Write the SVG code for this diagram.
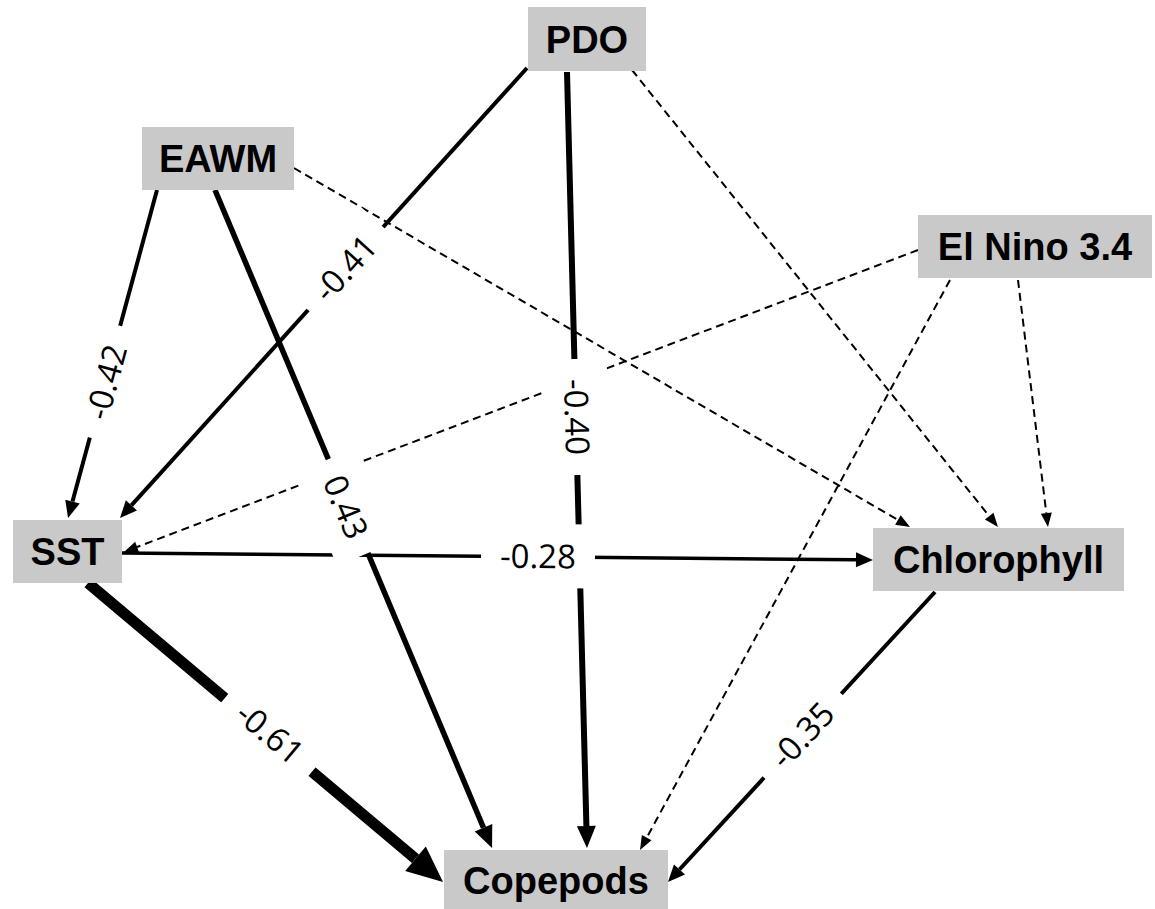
<svg xmlns="http://www.w3.org/2000/svg" width="1155" height="909" viewBox="0 0 1155 909">
<style>
.node rect{fill:#c9c9c9}
.node text{font-family:"Liberation Sans",Arial,sans-serif;font-weight:bold;font-size:38px;fill:#000;text-anchor:middle}
.e{fill:none;stroke:#000}
.d{stroke-width:2;stroke-dasharray:8 5;marker-end:url(#aD)}
.lab rect{fill:#fff}
.lab text{font-family:"Open Sans","Liberation Sans",sans-serif;font-size:33px;fill:#000;text-anchor:middle}
</style>
<defs>
<marker id="aS" markerUnits="userSpaceOnUse" markerWidth="17" markerHeight="15" refX="0" refY="7.5" orient="auto" overflow="visible"><path d="M0,0 L17,7.5 L0,15 z" fill="#000"/></marker>
<marker id="aM" markerUnits="userSpaceOnUse" markerWidth="22" markerHeight="19" refX="0" refY="9.5" orient="auto" overflow="visible"><path d="M0,0 L22,9.5 L0,19 z" fill="#000"/></marker>
<marker id="aD" markerUnits="userSpaceOnUse" markerWidth="14" markerHeight="11" refX="0" refY="5.5" orient="auto" overflow="visible"><path d="M0,0 L14,5.5 L0,11 z" fill="#000"/></marker>
<marker id="aB" markerUnits="userSpaceOnUse" markerWidth="36" markerHeight="32" refX="0" refY="16" orient="auto" overflow="visible"><path d="M0,0 L36,16 L0,32 z" fill="#000"/></marker>
</defs>
<g id="connectors">
<line class="e d" x1="294" y1="168" x2="897.9" y2="519.9"/>
<line class="e d" x1="632" y1="70" x2="989.2" y2="516.1"/>
<line class="e d" x1="1018" y1="280" x2="1046.3" y2="513.1"/>
<line class="e d" x1="918" y1="250" x2="137.1" y2="547"/>
<line class="e d" x1="950" y1="280" x2="646.7" y2="837.7"/>
<line class="e" stroke-width="4" x1="527" y1="68" x2="131.4" y2="505.4" marker-end="url(#aS)"/>
<line class="e" stroke-width="6" x1="567" y1="72" x2="586.4" y2="826" marker-end="url(#aM)"/>
<line class="e" stroke-width="4" x1="157" y1="190" x2="72.5" y2="501.6" marker-end="url(#aS)"/>
<line class="e" stroke-width="5.5" x1="215" y1="190" x2="483.5" y2="827.7" marker-end="url(#aM)"/>
<line class="e" stroke-width="3.5" x1="122" y1="553" x2="856" y2="559.8" marker-end="url(#aS)"/>
<line class="e" stroke-width="11" x1="88" y1="583" x2="415.5" y2="858.8" marker-end="url(#aB)"/>
<line class="e" stroke-width="4" x1="935" y1="592" x2="679.5" y2="869.5" marker-end="url(#aS)"/>
</g>
<g id="labels">
<g class="lab" transform="translate(345,268) rotate(-47.9)"><rect x="-56" y="-31" width="112" height="62"/><text x="0" y="12">-0.41</text></g>
<g class="lab" transform="translate(577,417) rotate(88.5)"><rect x="-58" y="-31" width="116" height="62"/><text x="0" y="12">-0.40</text></g>
<g class="lab" transform="translate(106,382) rotate(-74.8)"><rect x="-58" y="-31" width="116" height="62"/><text x="0" y="12">-0.42</text></g>
<g class="lab" transform="translate(346,507) rotate(67.3)"><rect x="-51" y="-31" width="102" height="62"/><text x="0" y="12">0.43</text></g>
<g class="lab" transform="translate(538,556) rotate(0.5)"><rect x="-57" y="-32" width="114" height="64"/><text x="0" y="12">-0.28</text></g>
<g class="lab" transform="translate(270,733) rotate(40)"><rect x="-57" y="-31" width="114" height="62"/><text x="0" y="12">-0.61</text></g>
<g class="lab" transform="translate(802,735) rotate(-47)"><rect x="-57" y="-31" width="114" height="62"/><text x="0" y="12">-0.35</text></g>
</g>
<g id="PDO" class="node"><rect x="528" y="7" width="118" height="64"/><text x="587" y="52.5">PDO</text></g>
<g id="EAWM" class="node"><rect x="142" y="127" width="152" height="63"/><text x="218" y="172">EAWM</text></g>
<g id="ElNino" class="node"><rect x="918" y="215" width="234" height="63"/><text x="1035" y="260">El Nino 3.4</text></g>
<g id="SST" class="node"><rect x="13" y="520" width="109" height="63"/><text x="67.5" y="565">SST</text></g>
<g id="Chlorophyll" class="node"><rect x="873" y="528" width="251" height="63"/><text x="998.5" y="573">Chlorophyll</text></g>
<g id="Copepods" class="node"><rect x="444" y="850" width="224" height="63"/><text x="556" y="894">Copepods</text></g>
</svg>
